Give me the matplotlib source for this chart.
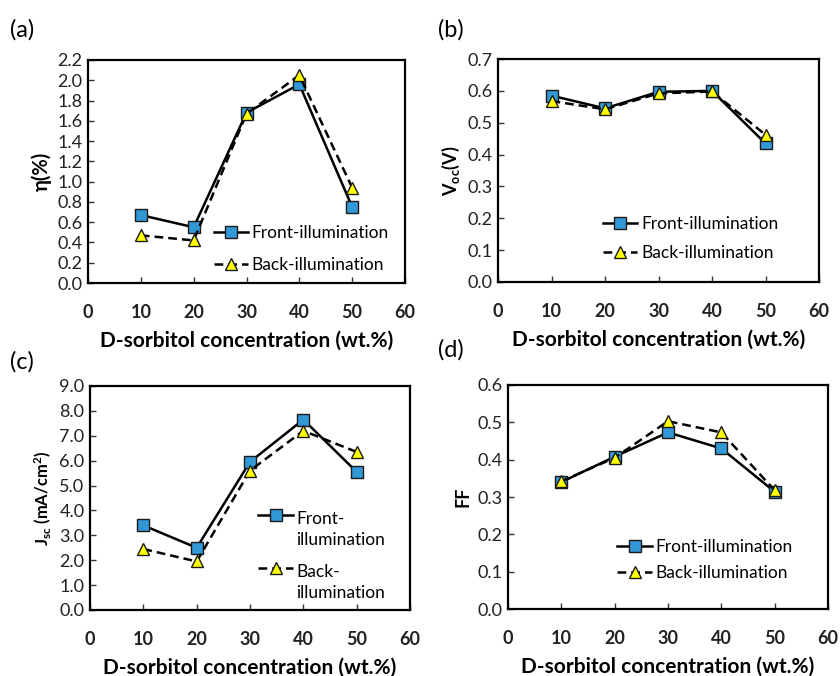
import matplotlib
matplotlib.use("Agg")
import matplotlib.pyplot as plt
from matplotlib.ticker import FormatStrFormatter, MultipleLocator
from matplotlib.legend_handler import HandlerLine2D

plt.rcParams['font.family'] = ['Lato', 'DejaVu Sans']
plt.rcParams['mathtext.fontset'] = 'custom'
plt.rcParams['mathtext.rm'] = 'Lato:bold'
plt.rcParams['mathtext.it'] = 'Lato:bold'
plt.rcParams['mathtext.bf'] = 'Lato:bold'
plt.rcParams['mathtext.default'] = 'rm'

conc = [10, 20, 30, 40, 50]
eta_front = [0.67, 0.55, 1.68, 1.96, 0.75]
eta_back = [0.47, 0.42, 1.67, 2.05, 0.94]
voc_front = [0.585, 0.545, 0.597, 0.600, 0.435]
voc_back = [0.568, 0.542, 0.592, 0.598, 0.462]
jsc_front = [3.40, 2.50, 5.95, 7.65, 5.55]
jsc_back = [2.45, 1.95, 5.60, 7.20, 6.35]
ff_front = [0.340, 0.408, 0.473, 0.430, 0.314]
ff_back = [0.342, 0.405, 0.503, 0.473, 0.318]

xticks = [0, 10, 20, 30, 40, 50, 60]
xlabel = "D-sorbitol concentration (wt.%)"

W, H = 840, 676
fig = plt.figure(figsize=(W / 100, H / 100), dpi=100)


class UpHandler(HandlerLine2D):
    """Place the legend handle level with the first line of a two-line label."""
    def __init__(self, shift, **kw):
        super().__init__(**kw)
        self.shift = shift

    def create_artists(self, legend, orig_handle, xdescent, ydescent, width, height,
                       fontsize, trans):
        return super().create_artists(legend, orig_handle, xdescent,
                                      ydescent - 2 * self.shift, width, height,
                                      fontsize, trans)


def px_axes(l, r, t, b):
    return fig.add_axes([l / W, (H - b) / H, (r - l) / W, (b - t) / H])


panels = [
    dict(box=(88, 405, 60, 283), front=eta_front, back=eta_back, ymax=2.2, ystep=0.2,
         ylabel="η(%)", ylsize=14.5, letter="(a)", lpos=(10, 30),
         labels=("Front-illumination", "Back-illumination"), leg=(0.38, 0.02), lsp=0.95,
         shift=0, linesp=1.2),
    dict(box=(498, 819, 59, 282), front=voc_front, back=voc_back, ymax=0.7, ystep=0.1,
         ylabel="V$_{oc}$(V)", ylsize=13, letter="(b)", lpos=(438, 30),
         labels=("Front-illumination", "Back-illumination"), leg=(0.31, 0.07), lsp=0.75,
         shift=0, linesp=1.2),
    dict(box=(90, 410, 386, 610), front=jsc_front, back=jsc_back, ymax=9.0, ystep=1.0,
         ylabel="J$_{sc}$ (mA/cm$^{2}$)", ylsize=12, letter="(c)", lpos=(10, 362),
         labels=("Front-\nillumination", "Back-\nillumination"), leg=(0.51, 0.018), lsp=0.9,
         shift=10.5, linesp=1.4),
    dict(box=(508, 828, 385, 609), front=ff_front, back=ff_back, ymax=0.6, ystep=0.1,
         ylabel="FF", ylsize=13, letter="(d)", lpos=(438, 350),
         labels=("Front-illumination", "Back-illumination"), leg=(0.325, 0.10), lsp=0.62,
         shift=0, linesp=1.2),
]

for p in panels:
    ax = px_axes(*p["box"])
    lf, = ax.plot(conc, p["front"], color="black", lw=1.8, ls="-", marker="s", ms=9,
                  mfc="#3399d6", mec="#1a1a1a", mew=1.0, label=p["labels"][0], zorder=3)
    lb, = ax.plot(conc, p["back"], color="black", lw=1.8, ls=(0, (3.5, 2)), marker="^", ms=9,
                  mfc="#ffff00", mec="#1a1a1a", mew=1.0, label=p["labels"][1], zorder=4)
    ax.set_xlim(0, 60)
    ax.set_ylim(0, p["ymax"])
    ax.set_xticks(xticks)
    ax.yaxis.set_major_locator(MultipleLocator(p["ystep"]))
    ax.yaxis.set_major_formatter(FormatStrFormatter("%.1f"))
    ax.tick_params(axis="both", direction="in", length=4, width=1, color="#333333",
                   labelsize=13, labelcolor="#222222")
    ax.tick_params(axis="x", pad=15)
    ax.tick_params(axis="y", pad=4)
    for lab in ax.get_xticklabels():
        lab.set_fontweight("bold")
    for s in ax.spines.values():
        s.set_linewidth(1.6)
        s.set_color("black")
    ax.set_xlabel(xlabel, fontsize=15, fontweight="bold", labelpad=7)
    ax.set_ylabel(p["ylabel"], fontsize=p["ylsize"], fontweight="bold", labelpad=4)
    hmap = {}
    if p["shift"]:
        hmap = {lf: UpHandler(p["shift"]), lb: UpHandler(p["shift"])}
    leg = ax.legend(loc="lower left", bbox_to_anchor=p["leg"], frameon=False, fontsize=12.5,
                    handlelength=2.0, handletextpad=0.2, labelspacing=p["lsp"], borderpad=0.3,
                    borderaxespad=0, handler_map=hmap)
    for t in leg.get_texts():
        t.set_linespacing(p["linesp"])
    fig.text(p["lpos"][0] / W, 1 - p["lpos"][1] / H, p["letter"], fontsize=17,
             ha="left", va="center")

fig.savefig("out.png", dpi=100)
